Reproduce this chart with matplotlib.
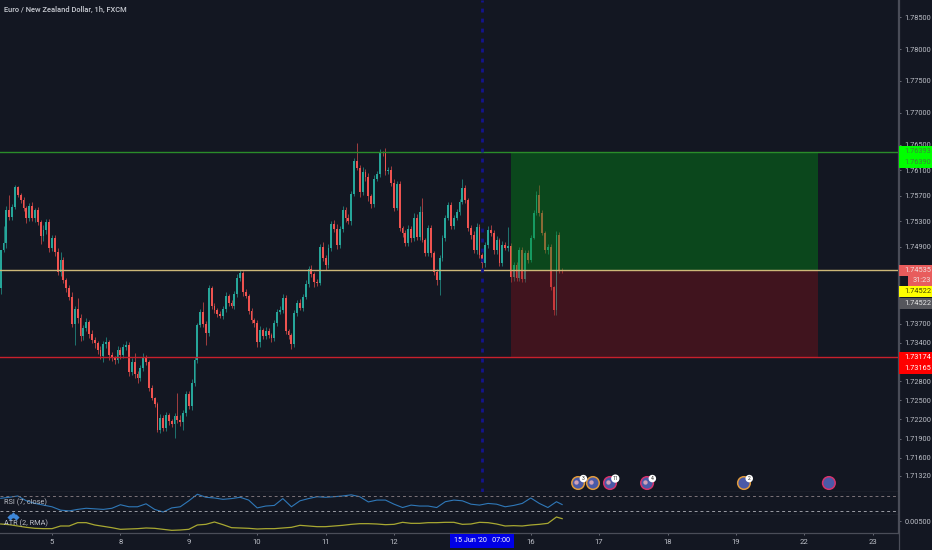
import matplotlib
matplotlib.use('Agg')
import matplotlib.pyplot as plt
from matplotlib.patches import Rectangle

plt.rcParams['font.family'] = ['Roboto', 'DejaVu Sans']

BG = '#131722'
UP = '#26a69a'
DOWN = '#ef5350'
TEXT = '#bcbfc7'
PANE_LINE = '#4a4d58'

title = 'Euro / New Zealand Dollar, 1h, FXCM'

# hourly closes
first_open = 1.74258
closes = [
    1.74853, 1.74963, 1.75479, 1.75369, 1.75526, 1.75839, 1.75715, 1.75636, 1.75511, 1.75354,
    1.75542, 1.75354, 1.75479, 1.75292, 1.75072, 1.75166, 1.75292, 1.74885, 1.75041, 1.74822,
    1.74509, 1.74696, 1.74383, 1.74258, 1.74117, 1.73694, 1.73929, 1.73788, 1.73506, 1.73631,
    1.73725, 1.73537, 1.73444, 1.73397, 1.73287, 1.73193, 1.73381, 1.73413, 1.73209, 1.73162,
    1.73130, 1.73287, 1.73209, 1.73334, 1.73366, 1.72943, 1.73099, 1.72911, 1.72849, 1.73005,
    1.73162, 1.73099, 1.72692, 1.72535, 1.72441, 1.72034, 1.72222, 1.72066, 1.72269, 1.72175,
    1.72128, 1.72253, 1.72191, 1.72160, 1.72300, 1.72598, 1.72410, 1.72770, 1.73130, 1.73679,
    1.73882, 1.73694, 1.73553, 1.74258, 1.73976, 1.73913, 1.73851, 1.73819, 1.73929, 1.74133,
    1.74023, 1.73976, 1.74164, 1.74414, 1.74493, 1.74196, 1.74133, 1.73898, 1.73757, 1.73710,
    1.73413, 1.73600, 1.73506, 1.73584, 1.73522, 1.73475, 1.73710, 1.73882, 1.73913, 1.74101,
    1.73584, 1.73522, 1.73381, 1.73866, 1.74023, 1.73945, 1.74117, 1.74320, 1.74555, 1.74477,
    1.74352, 1.74336, 1.74900, 1.74727, 1.74618, 1.74885, 1.75260, 1.75182, 1.74932, 1.75182,
    1.75479, 1.75354, 1.75307, 1.75730, 1.76246, 1.76137, 1.75762, 1.76075, 1.75996, 1.75699,
    1.75573, 1.75965, 1.76043, 1.76388, 1.76372, 1.76090, 1.76106, 1.75902, 1.75511, 1.75887,
    1.75197, 1.75119, 1.74963, 1.75182, 1.75041, 1.75354, 1.75057, 1.75448, 1.75010, 1.74806,
    1.75197, 1.74806, 1.74509, 1.74383, 1.74727, 1.75041, 1.75354, 1.75558, 1.75229, 1.75354,
    1.75448, 1.75605, 1.75824, 1.75636, 1.75197, 1.75088, 1.74853, 1.75213, 1.74775, 1.74650,
    1.74932, 1.75166, 1.75119, 1.74853, 1.75010, 1.74650, 1.74932, 1.74885, 1.74916, 1.74430,
    1.74618, 1.74414, 1.74853, 1.74399, 1.74806, 1.74696, 1.75041, 1.75432, 1.75715, 1.75432,
    1.75119, 1.74853, 1.74900, 1.74273, 1.73913, 1.75088, 1.74540, 1.74522,
]
# wicks beyond the body, in pips
wick_up = [
    0, 27, 6, 23, 5, 3, 2, 3, 5, 3,
    4, 6, 3, 5, 3, 8, 5, 5, 4, 5,
    6, 12, 5, 3, 4, 8, 5, 17, 6, 4,
    6, 3, 6, 5, 3, 6, 5, 8, 3, 4,
    3, 6, 4, 5, 6, 5, 6, 14, 4, 5,
    8, 5, 3, 4, 2, 3, 6, 5, 4, 3,
    3, 4, 36, 8, 5, 4, 5, 6, 5, 3,
    5, 16, 4, 4, 3, 5, 3, 4, 5, 6,
    3, 5, 5, 6, 4, 3, 4, 3, 4, 3,
    5, 6, 3, 6, 5, 3, 5, 4, 6, 6,
    4, 3, 3, 5, 5, 6, 4, 6, 5, 6,
    3, 4, 5, 8, 4, 6, 5, 6, 8, 5,
    6, 5, 6, 5, 5, 28, 4, 8, 5, 6,
    3, 6, 5, 4, 2, 8, 5, 6, 6, 5,
    4, 3, 4, 6, 4, 8, 6, 9, 22, 3,
    5, 4, 3, 5, 5, 5, 4, 5, 4, 5,
    4, 5, 14, 4, 3, 4, 6, 6, 5, 3,
    5, 6, 8, 5, 6, 3, 6, 5, 30, 5,
    4, 5, 5, 4, 5, 5, 5, 5, 6, 16,
    4, 3, 5, 4, 2, 6, 5, 3,
]
wick_dn = [
    10, 3, 8, 4, 5, 3, 3, 4, 5, 8,
    4, 5, 6, 5, 12, 8, 6, 6, 5, 6,
    5, 6, 5, 6, 5, 5, 33, 8, 8, 6,
    5, 6, 5, 8, 6, 5, 9, 6, 8, 5,
    6, 5, 6, 5, 4, 6, 5, 6, 8, 4,
    4, 5, 5, 3, 4, 3, 5, 4, 4, 6,
    5, 22, 4, 6, 12, 4, 5, 6, 5, 4,
    3, 5, 19, 5, 4, 4, 5, 3, 4, 5,
    5, 3, 5, 4, 5, 6, 3, 4, 5, 6,
    8, 8, 5, 4, 5, 6, 5, 4, 3, 4,
    5, 6, 8, 5, 5, 3, 4, 3, 4, 5,
    8, 5, 3, 5, 8, 5, 4, 5, 6, 5,
    5, 6, 5, 6, 3, 3, 8, 5, 6, 8,
    6, 4, 3, 5, 4, 6, 4, 5, 5, 3,
    5, 6, 5, 4, 6, 5, 5, 4, 3, 5,
    4, 6, 5, 8, 24, 4, 5, 3, 5, 4,
    3, 4, 3, 5, 5, 6, 4, 6, 5, 8,
    6, 5, 4, 6, 6, 5, 5, 3, 5, 8,
    6, 5, 4, 5, 4, 5, 3, 2, 3, 5,
    3, 5, 6, 5, 8, 8, 4, 3,
]

# indicators, one reading every third bar plus the last one
indicator_bars = list(range(0, 196, 3)) + [197]
rsi = [
    62.7, 65.5, 69, 56, 49, 44.5, 40, 31, 29, 33, 36, 34.5, 33, 36, 45.5, 40, 40, 48, 33, 26,
    37, 40, 56, 73.6, 65.5, 63.6, 60, 62, 65.5, 58, 37, 42, 43.6, 62, 40, 56, 62, 67, 65.5, 67,
    69, 72, 67, 53, 58, 58, 47, 38, 44.5, 42, 42, 38, 53.6, 58, 56, 47, 44.5, 49, 47, 40,
    43.6, 49, 63.6, 49, 38, 53.6, 46,
]
atr = [
    .00375, .00347, .00292, .00236, .00195, .00181, .00181, .00292, .00292, .00431,
    .00431, .00334, .00278, .00222, .00153, .00167, .00181, .00209, .00195, .00153,
    .00111, .00125, .00153, .00334, .00361, .00459, .00347, .00222, .00209, .00195,
    .00167, .00181, .00181, .00209, .00236, .00320, .00292, .00264, .00264, .00292,
    .00320, .00361, .00389, .00389, .00375, .00347, .00361, .00445, .00403, .00403,
    .00431, .00431, .00445, .00445, .00361, .00375, .00445, .00431, .00375, .00292,
    .00306, .00292, .00334, .00361, .00403, .00667, .00598,
]

# long position drawing
entry_price = 1.74535
target_price = 1.76393
stop_price = 1.73174
position_start = 179
position_end = 286.8

cross_bar = 168.9
cross_label = "15 Jun '20   07:00"

price_ticks = [1.785, 1.78, 1.775, 1.77, 1.765, 1.761, 1.757, 1.753, 1.749, 1.737,
               1.734, 1.728, 1.725, 1.722, 1.719, 1.716, 1.7132]
day_ticks = [18, 42, 66, 90, 114, 138, 186, 210, 234, 258, 282, 306]
day_labels = ['5', '8', '9', '10', '11', '12', '16', '17', '18', '19', '22', '23']

event_bars = [202.6, 207.8, 213.8, 226.8, 260.8, 290.6]
event_rings = ['#e09a3c', '#e09a3c', '#d6336c', '#d6336c', '#e09a3c', '#d6336c']
event_counts = ['3', '', '11', '4', '2', '']
event_price = 1.71204


def pane(top, bottom):
    # axes placed by pixel rows of the 932x550 picture
    a = fig.add_axes([0, 1 - bottom / 550, 898 / 932, (bottom - top) / 550], facecolor=BG)
    a.set_xlim(-0.25, 314.85)
    a.set_xticks([])
    a.set_yticks([])
    a.yaxis.tick_right()
    for side in ['left', 'top']:
        a.spines[side].set_visible(False)
    for side in ['right', 'bottom']:
        a.spines[side].set_color(PANE_LINE)
        a.spines[side].set_linewidth(0.9)
    a.tick_params(axis='y', length=2.5, width=0.6, color='#787b86', labelcolor=TEXT, labelsize=5.3, pad=2)
    return a


def side_label(txt, price, off, fc, tc, left=899):
    # coloured box on the price scale, off is pixels below the price
    y = ax.transData.transform((0, price))[1] - off
    fig.add_artist(Rectangle((left / 932, (y - 5.5) / 550), (932 - left) / 932, 11 / 550,
                             transform=fig.transFigure, fc=fc, ec='none', zorder=5))
    fig.text((left + 5) / 932, y / 550, txt, color=tc, fontsize=5.3, ha='left', va='center', zorder=6)


fig = plt.figure(figsize=(9.32, 5.5), dpi=100, facecolor=BG)
ax = pane(0, 491.5)
ax_rsi = pane(491.5, 514.5)
ax_atr = pane(514.5, 533)

# candles
ax.set_ylim(1.71071, 1.78768)
opens = [first_open] + closes[:-1]
for i in range(len(closes)):
    o, c = opens[i], closes[i]
    col = UP if c >= o else DOWN
    hi = max(o, c) + wick_up[i] * 0.0001
    lo = min(o, c) - wick_dn[i] * 0.0001
    ax.vlines(i, lo, hi, color=col, lw=0.7, alpha=0.65, zorder=2)
    ax.bar(i, abs(c - o), bottom=min(o, c), width=0.65, color=col, linewidth=0, zorder=2)

# position zones sit over the candles
ax.fill_between([position_start, position_end], entry_price, target_price,
                color='#008a14', alpha=0.42, linewidth=0, zorder=3)
ax.fill_between([position_start, position_end], stop_price, entry_price,
                color='#8c1018', alpha=0.38, linewidth=0, zorder=3)
ax.axhline(target_price, color='#2a8c2a', lw=1, zorder=4)
ax.axhline(entry_price, color='#cdb878', lw=1, zorder=4)
ax.axhline(stop_price, color='#c8202c', lw=1, zorder=4)
ax.axvline(cross_bar, color='#14148c', lw=2, ls=(0, (1.4, 2.2)), zorder=4)

ax.set_yticks(price_ticks)
ax.set_yticklabels(['%.5f' % p for p in price_ticks])

ax.text(4 / 898, 1 - 10 / 491.5, title, transform=ax.transAxes, color='#c8cbd2', fontsize=5.4,
        va='center', ha='left', fontweight='medium')

# economic calendar icons
ax.scatter(event_bars, [event_price] * len(event_bars), s=82, facecolor='#4a5aa8',
           edgecolor=event_rings, linewidth=1.1, clip_on=False, zorder=6)
ax.scatter([b - 0.7 for b in event_bars[:4]], [event_price + 0.00016] * 4, s=10,
           facecolor='#d0a0b8', linewidth=0, clip_on=False, zorder=6)
for b, n in zip(event_bars, event_counts):
    if n:
        ax.annotate(n, (b, event_price), xytext=(3.8, 3.2), textcoords='offset points',
                    ha='center', va='center', fontsize=3.6, color='#222222', zorder=7,
                    bbox=dict(boxstyle='circle,pad=0.25', fc='white', ec='none'))

# price labels on the right scale
side_label('1.76393', target_price, 0, '#00ff00', '#3f7f3f')
side_label('1.76390', target_price, 10.5, '#00ff00', '#3f7f3f')
side_label('1.74535', entry_price, 0, '#e85c5c', '#f0e0e0')
side_label('31:23', entry_price, 10.5, '#e85c5c', '#f0e0e0', left=908)
side_label('1.74522', entry_price, 21.5, '#ffff00', '#444400')
side_label('1.74522', entry_price, 33, '#55565c', '#e6e6e6')
side_label('1.73174', stop_price, 0, '#ff0000', '#ffffff')
side_label('1.73165', stop_price, 11, '#ff0000', '#ffffff')

# RSI pane
ax_rsi.set_ylim(19.3, 81)
ax_rsi.plot(indicator_bars, rsi, color='#2f78b8', lw=0.8)
ax_rsi.axhline(70, color='#7c7278', lw=0.7, ls=(0, (3, 3)))
ax_rsi.axhline(30, color='#9a9ca4', lw=0.7, ls=(0, (3, 3)))
ax_rsi.text(4 / 898, 0.52, 'RSI (7, close)', transform=ax_rsi.transAxes, color=TEXT,
            fontsize=5.3, va='center')

# ATR pane
ax_atr.set_ylim(0, 0.00771)
ax_atr.plot(indicator_bars, atr, color='#a8a832', lw=0.9)
ax_atr.set_yticks([0.005])
ax_atr.set_yticklabels(['0.00500'])
ax_atr.text(4 / 898, 0.5, 'ATR (2, RMA)', transform=ax_atr.transAxes, color=TEXT,
            fontsize=5.3, va='center')
ax_atr.scatter([3.2, 4.2, 5.2], [0.0068, 0.0076, 0.0068], s=10, marker='D', color='#3d86d8',
               linewidth=0, clip_on=False, zorder=6)

ax_atr.set_xticks(day_ticks)
ax_atr.set_xticklabels(day_labels)
ax_atr.tick_params(axis='x', length=1.5, width=0.6, color='#787b86', labelcolor=TEXT,
                   labelsize=5.6, pad=2.5)
ax_atr.annotate(cross_label, (cross_bar, 0), xycoords=('data', 'axes fraction'),
                xytext=(0, -5.5), textcoords='offset points', ha='center', va='center',
                fontsize=5.2, color='white', annotation_clip=False, zorder=9,
                bbox=dict(boxstyle='square,pad=0.5', fc='#0000e6', ec='none'))

# the right hand scale line runs down to the bottom edge
fig.add_artist(plt.Line2D([898.5 / 932] * 2, [0, 1], color=PANE_LINE, lw=0.9))

fig.savefig('out.png', dpi=100, facecolor=BG)
